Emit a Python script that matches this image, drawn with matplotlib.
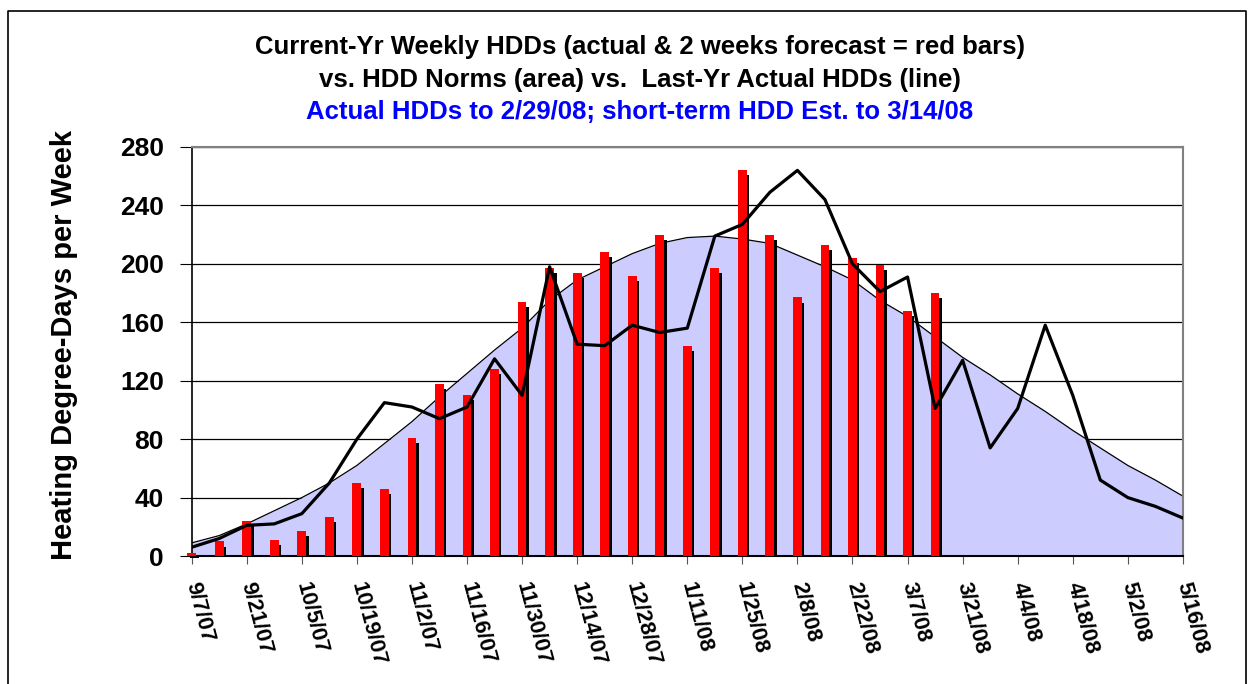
import matplotlib
matplotlib.use("Agg")
import matplotlib.pyplot as plt
import numpy as np

plt.rcParams['font.family'] = ['Liberation Sans', 'DejaVu Sans']
plt.rcParams['font.weight'] = 'bold'

# weekly data, 9/7/07 .. 5/16/08
current_yr = [2, 10, 24, 11, 17, 27, 50, 46, 81, 118, 110, 128, 174, 197,
              194, 208, 192, 220, 144, 197, 264, 220, 177, 213, 204, 199,
              168, 180]
norms = [9, 14, 22, 31, 40, 50, 62, 77, 92, 109, 125, 141, 156, 175, 189,
         198, 207, 214, 218, 219, 217, 214, 206, 198, 189, 175, 164, 150,
         136, 124, 111, 99, 86, 74, 62, 52, 41]
last_yr = [6, 12, 21, 22, 29, 50, 80, 105, 102, 94, 102, 135, 110, 198, 145,
           144, 158, 153, 156, 219, 227, 249, 264, 244, 200, 181, 191, 101,
           134, 74, 101, 158, 110, 52, 40, 34, 26]
tick_labels = ['9/7/07', '9/21/07', '10/5/07', '10/19/07', '11/2/07',
               '11/16/07', '11/30/07', '12/14/07', '12/28/07', '1/11/08',
               '1/25/08', '2/8/08', '2/22/08', '3/7/08', '3/21/08',
               '4/4/08', '4/18/08', '5/2/08', '5/16/08']

x_all = np.arange(len(norms))
x_bar = np.arange(len(current_yr))

fig = plt.figure(figsize=(12.52, 6.84), dpi=100)
ax = fig.add_axes([0.1531, 0.1871, 0.7917, 0.598])

# norm area
ax.fill_between(x_all, norms, 0, color='#CCCCFF', zorder=1, lw=0)
ax.plot(x_all, norms, color='black', lw=0.9, zorder=2)

# current-year bars with a dark shadow
ax.bar(x_bar + 0.09, np.array(current_yr) - 3.5, width=0.32, color='black',
       zorder=3, clip_on=False)
ax.bar(x_bar, current_yr, width=0.32, color='#FF0000', zorder=4, clip_on=False)

# last-year line
ax.plot(x_all, last_yr, color='black', lw=2.3, zorder=5)

ax.set_xlim(0, len(norms) - 1)
ax.set_ylim(0, 280)
ax.set_yticks(np.arange(0, 281, 40))
ax.set_xticks(x_all[::2])
ax.set_xticklabels(tick_labels, rotation=-75, ha='left', va='center',
                   rotation_mode='anchor', fontsize=15.8, fontweight='bold')
ax.tick_params(axis='x', length=6, pad=13, color='#555555')
ax.tick_params(axis='y', length=9, pad=11, labelsize=19)
for lbl in ax.get_yticklabels():
    lbl.set_fontweight('bold')

ax.set_axisbelow(True)
ax.grid(axis='y', color='black', lw=0.9, zorder=0)
ax.spines['top'].set_color('#808080')
ax.spines['right'].set_color('#808080')
ax.spines['top'].set_linewidth(1.5)
ax.spines['right'].set_linewidth(1.5)
ax.spines['left'].set_linewidth(1.2)
ax.spines['bottom'].set_linewidth(1.5)

ax.set_ylabel('Heating Degree-Days per Week', fontsize=21, fontweight='bold',
              labelpad=30)
ax.yaxis.label.set_y(0.515)

fig.text(0.511, 1 - 47 / 684, 'Current-Yr Weekly HDDs (actual & 2 weeks forecast = red bars)',
         ha='center', va='center', fontsize=18.5, fontweight='bold')
fig.text(0.511, 1 - 80 / 684, 'vs. HDD Norms (area) vs.  Last-Yr Actual HDDs (line)',
         ha='center', va='center', fontsize=18.5, fontweight='bold')
fig.text(0.511, 1 - 112 / 684, 'Actual HDDs to 2/29/08; short-term HDD Est. to 3/14/08',
         ha='center', va='center', fontsize=18.5, fontweight='bold', color='#0000FF')

# outer chart border
l, r, t = 8 / 1252, 1246 / 1252, 1 - 11 / 684
fig.add_artist(plt.Line2D([l, l, r, r], [0, t, t, 0], color='black', lw=1.2,
                          transform=fig.transFigure))

fig.savefig('out.png', dpi=100)
